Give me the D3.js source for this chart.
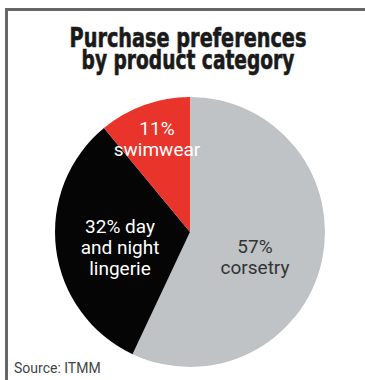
<!DOCTYPE html>
<html lang="en">
<head>
  <meta charset="UTF-8">
  <title>Purchase preferences by product category</title>
  <script src="https://d3js.org/d3.v7.min.js"></script>
  <style>
    body {
      margin: 0;
      background: #fff;
    }
    .title {
      font-family: "DejaVu Sans Condensed", "DejaVu Sans", sans-serif;
      font-weight: bold;
      font-size: 27px;
      fill: #1a1a1a;
      stroke: #1a1a1a;
      stroke-width: 0.6px;
    }
    .label {
      font-family: Roboto, "Liberation Sans", sans-serif;
      font-size: 19px;
    }
    .source {
      font-family: Roboto, "Liberation Sans", sans-serif;
      font-size: 14px;
      fill: #444;
    }
  </style>
</head>
<body>
  <svg width="365" height="380"></svg>

  <script>
    const categories = ["corsetry", "day and night lingerie", "swimwear"];
    const shares = [57, 32, 11];
    const labelLines = [
      ["57%", "corsetry"],
      ["32% day", "and night", "lingerie"],
      ["11%", "swimwear"]
    ];
    const titleLines = ["Purchase preferences", "by product category"];

    const data = categories.map((c, i) => ({ name: c, value: shares[i], lines: labelLines[i] }));

    const svg = d3.select("svg");

    // frame: top and left rules only
    svg.append("path")
      .attr("d", "M6.5,380 V9.5 H365")
      .attr("fill", "none")
      .attr("stroke", "#666")
      .attr("stroke-width", 3);

    // title, squeezed horizontally to the condensed look of the original
    const titleWidths = [237, 213];
    const titleY = [47, 69];
    titleLines.forEach((line, i) => {
      const t = svg.append("text")
        .attr("class", "title")
        .attr("text-anchor", "middle")
        .text(line);
      const w = t.node().getComputedTextLength();
      const k = titleWidths[i] / w;
      t.attr("transform", `translate(188,${titleY[i]}) scale(${k},1)`);
    });

    const cx = 190, cy = 232, radius = 135;
    const color = d3.scaleOrdinal()
      .domain(categories)
      .range(["#bfc3c5", "#050505", "#e8342a"]);
    const textColor = d3.scaleOrdinal()
      .domain(categories)
      .range(["#333", "#fff", "#fff"]);

    const pie = d3.pie().sort(null).value(d => d.value);
    const arc = d3.arc().innerRadius(0).outerRadius(radius);

    const g = svg.append("g").attr("transform", `translate(${cx},${cy})`);
    const arcs = pie(data);

    g.selectAll("path.slice")
      .data(arcs)
      .enter()
      .append("path")
      .attr("class", "slice")
      .attr("d", arc)
      .attr("fill", d => color(d.data.name));

    // label anchor points (first-line baseline, relative to centre)
    const labelPos = {
      "corsetry": [65, 21],
      "day and night lingerie": [-70, 1],
      "swimwear": [-33, -97]
    };
    const lineGap = 21;

    arcs.forEach(d => {
      const [lx, ly] = labelPos[d.data.name];
      const t = g.append("text")
        .attr("class", "label")
        .attr("text-anchor", "middle")
        .attr("fill", textColor(d.data.name));
      d.data.lines.forEach((line, i) => {
        t.append("tspan").attr("x", lx).attr("y", ly + i * lineGap).text(line);
      });
    });

    svg.append("text")
      .attr("class", "source")
      .attr("x", 14)
      .attr("y", 373)
      .text("Source: ITMM");
  </script>
</body>
</html>
